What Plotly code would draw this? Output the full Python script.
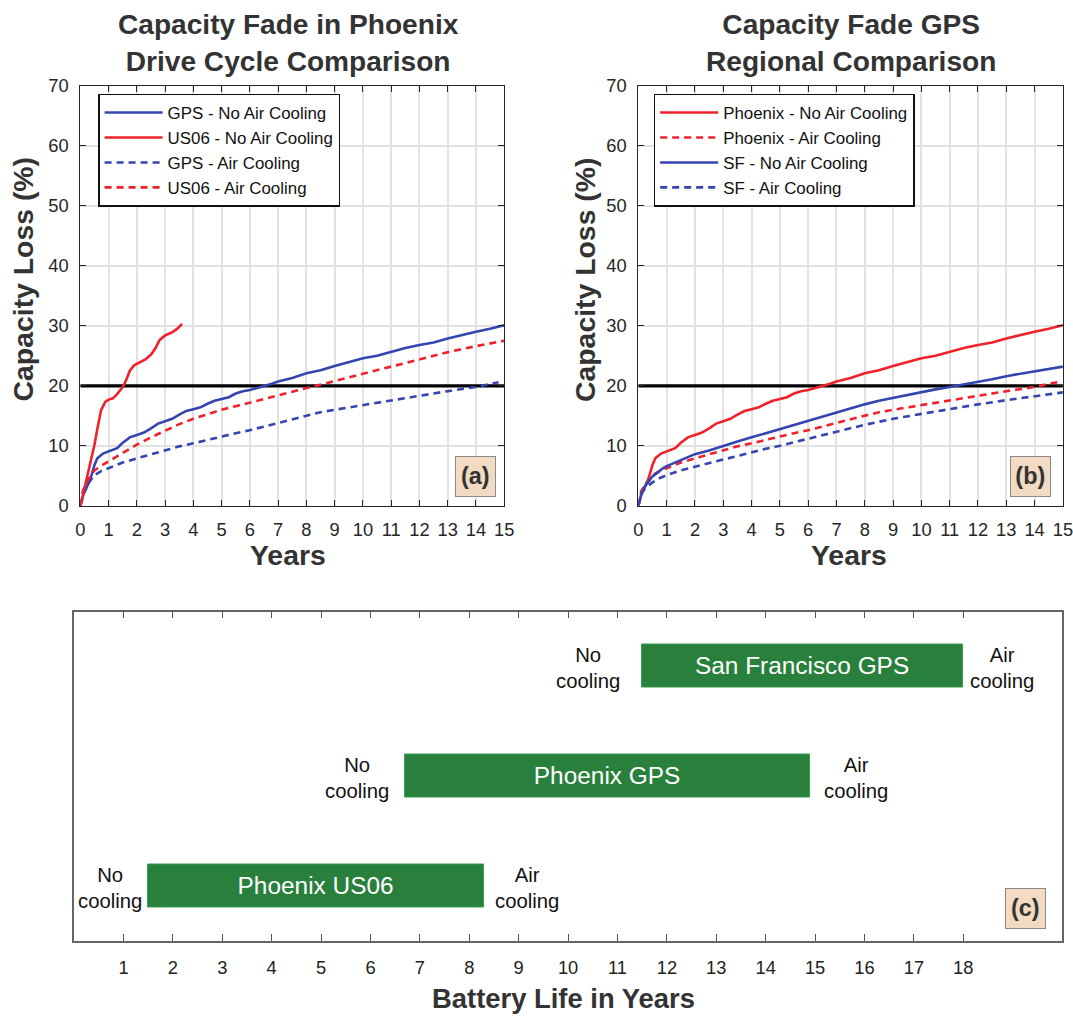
import plotly.graph_objects as go

# ---------------- data ----------------
# Phoenix GPS drive cycle, no air cooling (blue solid in (a), red solid in (b))
phx_gps_no_yr = [0, 0.1, 0.2, 0.35, 0.5, 0.6, 0.8, 1.0, 1.3, 1.5, 1.75, 2.0, 2.25, 2.5, 2.75, 3.0,
                 3.25, 3.5, 3.75, 4.0, 4.25, 4.5, 4.75, 5.0, 5.25, 5.5, 5.75, 6.0, 6.25, 6.5, 6.75,
                 7.0, 7.5, 8.0, 8.5, 9.0, 9.5, 10.0, 10.5, 11.0, 11.5, 12.0, 12.5, 13.0, 13.5, 14.0,
                 14.5, 15.0]
phx_gps_no_val = [0, 1.8, 2.8, 4.4, 6.8, 7.9, 8.7, 9.1, 9.6, 10.5, 11.4, 11.8, 12.2, 12.9, 13.7, 14.1,
                  14.5, 15.2, 15.8, 16.1, 16.4, 17.0, 17.5, 17.8, 18.1, 18.7, 19.1, 19.3, 19.6, 19.9, 20.3,
                  20.7, 21.3, 22.1, 22.6, 23.3, 23.9, 24.6, 25.0, 25.7, 26.3, 26.8, 27.2, 27.9, 28.5, 29.0,
                  29.5, 30.1]

# Phoenix US06 drive cycle, no air cooling
us06_no_yr = [0, 0.06, 0.15, 0.25, 0.4, 0.5, 0.6, 0.73, 0.88, 1.0, 1.15, 1.3, 1.45, 1.55, 1.65, 1.75,
              1.9, 2.1, 2.3, 2.5, 2.65, 2.8, 3.0, 3.2, 3.4, 3.6]
us06_no_val = [0, 1.0, 3.0, 5.0, 8.0, 10.2, 12.8, 15.9, 17.3, 17.7, 17.9, 18.6, 19.5, 20.2, 21.3, 22.5,
               23.4, 23.9, 24.4, 25.2, 26.2, 27.6, 28.4, 28.8, 29.4, 30.3]

# Phoenix GPS drive cycle, air cooling (blue dashed in (a), red dashed in (b))
phx_gps_air_yr = [0, 0.1, 0.25, 0.5, 0.75, 1, 1.5, 2, 2.5, 3, 3.5, 4, 4.5, 5, 5.5, 6, 6.5, 7, 7.5, 8,
                  8.5, 9, 9.5, 10, 11, 12, 13, 14, 14.8]
phx_gps_air_val = [0, 2.4, 3.6, 5.1, 5.8, 6.3, 7.2, 7.9, 8.6, 9.3, 9.9, 10.4, 11.0, 11.5, 12.1, 12.6,
                   13.2, 13.9, 14.5, 15.1, 15.6, 16.0, 16.4, 16.8, 17.6, 18.3, 19.1, 19.8, 20.6]

# Phoenix US06 drive cycle, air cooling
us06_air_yr = [0, 0.1, 0.25, 0.5, 0.75, 1, 1.5, 2, 2.5, 3, 3.5, 4, 4.5, 5, 5.5, 6, 6.5, 7, 7.5, 8,
               8.5, 9, 9.5, 10, 11, 12, 13, 14, 15]
us06_air_val = [0, 2.6, 4.2, 5.9, 6.7, 7.4, 8.8, 10.2, 11.4, 12.5, 13.6, 14.5, 15.3, 16.0, 16.6, 17.2,
                17.8, 18.4, 19.0, 19.7, 20.3, 20.9, 21.5, 22.1, 23.3, 24.4, 25.6, 26.6, 27.5]

# San Francisco GPS, no air cooling
sf_no_yr = [0, 0.1, 0.2, 0.35, 0.5, 0.7, 0.85, 1.0, 1.25, 1.5, 1.75, 2, 2.5, 3, 3.5, 4, 4.5, 5, 5.5,
            6, 6.5, 7, 7.5, 8, 8.5, 9, 9.5, 10, 10.5, 11, 11.5, 12, 12.5, 13, 13.5, 14, 14.5, 15]
sf_no_val = [0, 1.8, 3.0, 4.0, 4.9, 5.6, 6.2, 6.6, 7.1, 7.6, 8.1, 8.6, 9.2, 10.0, 10.7, 11.4, 12.1,
             12.8, 13.4, 14.1, 14.9, 15.6, 16.3, 16.9, 17.5, 18.0, 18.5, 19.0, 19.4, 19.8, 20.2, 20.7,
             21.1, 21.6, 22.0, 22.4, 22.8, 23.2]

# San Francisco GPS, air cooling
sf_air_yr = [0, 0.1, 0.25, 0.5, 0.75, 1, 1.5, 2, 2.5, 3, 3.5, 4, 4.5, 5, 5.5, 6, 6.5, 7, 7.5, 8, 9,
             10, 11, 12, 13, 14, 15]
sf_air_val = [0, 2.0, 3.0, 3.9, 4.6, 5.1, 5.9, 6.5, 7.2, 7.8, 8.4, 9.0, 9.5, 10.0, 10.6, 11.1, 11.7,
              12.3, 12.9, 13.5, 14.5, 15.3, 16.2, 16.9, 17.6, 18.3, 18.9]

end_of_life = 20  # % capacity loss threshold

# Panel (c): battery life range (years) between no cooling and air cooling
bar_labels = ["Phoenix US06", "Phoenix GPS", "San Francisco GPS"]
life_no_cooling = [1.5, 6.7, 11.5]
life_air_cooling = [8.3, 14.9, 18.0]
note_x_no = [0.72, 5.73, 10.41]
note_x_air = [9.17, 15.83, 18.79]
bar_rows = [1, 2, 3]
c_ticks = list(range(1, 19))

# ---------------- styles ----------------
W, H = 1073, 1016
# the page is shown with an 8px body margin and slightly reduced; place items so that
# they land on the reference pixel positions
S, OX, OY = 0.985, 7.0, 8.0
BLUE = "#3545b0"
RED = "#f0212b"
GREEN = "#28803c"
TAN = "#f2dac3"
FONT = "Liberation Sans"
DASH = "7px,5px"
LW = 2.6


def fx(v):
    return ((v - OX) / S) / W


def fy(v):
    return 1 - ((v - OY) / S) / H


def fs(v):
    return round(v / S, 1)


fig = go.Figure()


def add_line(xs, ys, color, dash, name, xa, ya, legend):
    fig.add_trace(go.Scatter(
        x=xs, y=ys, mode="lines", name=name,
        line=dict(color=color, width=LW, dash=dash),
        xaxis=xa, yaxis=ya, legend=legend,
    ))


# threshold lines
for xa, ya in (("x", "y"), ("x2", "y2")):
    fig.add_trace(go.Scatter(x=[0, 15], y=[end_of_life, end_of_life], mode="lines",
                             line=dict(color="black", width=3.2), showlegend=False,
                             xaxis=xa, yaxis=ya, hoverinfo="skip"))

# panel (a)
add_line(phx_gps_no_yr, phx_gps_no_val, BLUE, "solid", "GPS - No Air Cooling", "x", "y", "legend")
add_line(us06_no_yr, us06_no_val, RED, "solid", "US06 - No Air Cooling", "x", "y", "legend")
add_line(phx_gps_air_yr, phx_gps_air_val, BLUE, DASH, "GPS - Air Cooling", "x", "y", "legend")
add_line(us06_air_yr, us06_air_val, RED, DASH, "US06 - Air Cooling", "x", "y", "legend")

# panel (b)
add_line(phx_gps_no_yr, phx_gps_no_val, RED, "solid", "Phoenix - No Air Cooling", "x2", "y2", "legend2")
add_line(phx_gps_air_yr, phx_gps_air_val, RED, DASH, "Phoenix - Air Cooling", "x2", "y2", "legend2")
add_line(sf_no_yr, sf_no_val, BLUE, "solid", "SF - No Air Cooling", "x2", "y2", "legend2")
add_line(sf_air_yr, sf_air_val, BLUE, DASH, "SF - Air Cooling", "x2", "y2", "legend2")

# panel (c)
fig.add_trace(go.Bar(
    y=bar_rows, x=[a - n for a, n in zip(life_air_cooling, life_no_cooling)], base=life_no_cooling,
    orientation="h", width=0.39, marker=dict(color=GREEN, line=dict(color="#3a9a50", width=1)),
    text=bar_labels, textposition="inside", insidetextanchor="middle", textangle=0,
    constraintext="none", textfont=dict(color="white", size=fs(24), family=FONT),
    xaxis="x3", yaxis="y3", showlegend=False, hoverinfo="skip",
))

# ---------------- axes ----------------
pa_x = [fx(82.3), fx(505.7)]
pb_x = [fx(639.7), min(1.0, fx(1063.8))]
pab_y = [fy(505.6), fy(83.3)]
pc_x = [fx(76), fx(1063)]
pc_y = [fy(943), fy(612)]

common_x = dict(range=[0, 15], dtick=1, tick0=0, ticks="inside", ticklen=6, tickwidth=1,
                tickcolor="#262626", showline=True, linecolor="#262626", linewidth=1.2,
                mirror="ticks", showgrid=True, gridcolor="#e2e2e2", gridwidth=1.5, zeroline=False,
                tickfont=dict(size=fs(18), color="#262626", family=FONT), ticklabelstandoff=7,
                ticklabeloverflow="allow", fixedrange=True)
common_y = dict(range=[0, 70], dtick=10, tick0=0, ticks="inside", ticklen=6, tickwidth=1,
                tickcolor="#262626", showline=True, linecolor="#262626", linewidth=1.2,
                mirror="ticks", showgrid=True, gridcolor="#e2e2e2", gridwidth=1.5, zeroline=False,
                tickfont=dict(size=fs(18), color="#262626", family=FONT), ticklabelstandoff=7,
                fixedrange=True)

legend_common = dict(bgcolor="white", bordercolor="#111", borderwidth=1.5,
                     font=dict(size=fs(16.6), color="#111", family=FONT),
                     xanchor="left", yanchor="top", itemwidth=58,
                     traceorder="normal")

fig.update_layout(
    width=W, height=H, margin=dict(l=0, r=0, t=0, b=0),
    paper_bgcolor="white", plot_bgcolor="white",
    font=dict(family=FONT, color="#262626"),
    xaxis=dict(domain=pa_x, anchor="y", **common_x),
    yaxis=dict(domain=pab_y, anchor="x", **common_y),
    xaxis2=dict(domain=pb_x, anchor="y2", **common_x),
    yaxis2=dict(domain=pab_y, anchor="x2", **common_y),
    xaxis3=dict(domain=pc_x, anchor="y3", range=[0, 20], tickvals=c_ticks, ticks="inside",
                ticklen=7, tickwidth=1, tickcolor="#555", showline=True, linecolor="#666",
                linewidth=1.5, mirror="ticks", showgrid=False, zeroline=False,
                tickfont=dict(size=fs(18), color="#222", family=FONT), ticklabelstandoff=10,
                fixedrange=True),
    yaxis3=dict(domain=pc_y, anchor="x3", range=[0.5, 3.5], showticklabels=False, ticks="",
                showline=True, linecolor="#666", linewidth=1.5, mirror=True, showgrid=False,
                zeroline=False, fixedrange=True),
    legend=dict(x=fx(100), y=fy(91), **legend_common),
    legend2=dict(x=fx(655), y=fy(91), **legend_common),
    showlegend=True,
    bargap=0,
)

ann = []
title_font = dict(size=fs(27.7), color="#333", family=FONT)
ann.append(dict(text="<b>Capacity Fade in Phoenix</b><br><b>Drive Cycle Comparison</b>",
                x=fx(290), y=fy(40.5), xref="paper", yref="paper", showarrow=False,
                xanchor="center", yanchor="middle", font=title_font))
ann.append(dict(text="<b>Capacity Fade GPS</b><br><b>Regional Comparison</b>",
                x=fx(852), y=fy(40.5), xref="paper", yref="paper", showarrow=False,
                xanchor="center", yanchor="middle", font=title_font))
axis_title_font = dict(size=fs(28), color="#333", family=FONT)
for xc in (25, 587):
    ann.append(dict(text="<b>Capacity Loss (%)</b>", x=fx(xc), y=fy(278), xref="paper",
                    yref="paper", showarrow=False, textangle=-90, xanchor="center",
                    yanchor="middle", font=axis_title_font))
for xc in (290, 850):
    ann.append(dict(text="<b>Years</b>", x=fx(xc), y=fy(555), xref="paper", yref="paper",
                    showarrow=False, xanchor="center", yanchor="middle", font=axis_title_font))
ann.append(dict(text="<b>Battery Life in Years</b>", x=fx(565), y=fy(1001), xref="paper",
                yref="paper", showarrow=False, xanchor="center", yanchor="middle",
                font=dict(size=fs(27), color="#333", family=FONT)))

# panel tags
for tag, xc, yc in (("(a)", 477, 476), ("(b)", 1031, 476), ("(c)", 1026.5, 911)):
    ann.append(dict(text="<b>%s</b>" % tag, x=fx(xc), y=fy(yc), xref="paper", yref="paper",
                    showarrow=False, xanchor="center", yanchor="middle", width=fs(38),
                    height=fs(38), bgcolor=TAN, bordercolor="#8a8a8a", borderwidth=1,
                    borderpad=0, font=dict(size=fs(23), color="#333", family=FONT)))

# panel (c) notes
note_font = dict(size=fs(20), color="#111", family=FONT)
for row, xn, xa in zip(bar_rows, note_x_no, note_x_air):
    ann.append(dict(text="No<br>cooling", x=xn, y=row, xref="x3", yref="y3", showarrow=False,
                    xanchor="center", yanchor="middle", align="center", font=note_font, yshift=-2))
    ann.append(dict(text="Air<br>cooling", x=xa, y=row, xref="x3", yref="y3", showarrow=False,
                    xanchor="center", yanchor="middle", align="center", font=note_font, yshift=-2))

fig.update_layout(annotations=ann)

fig.write_html("out.html")
